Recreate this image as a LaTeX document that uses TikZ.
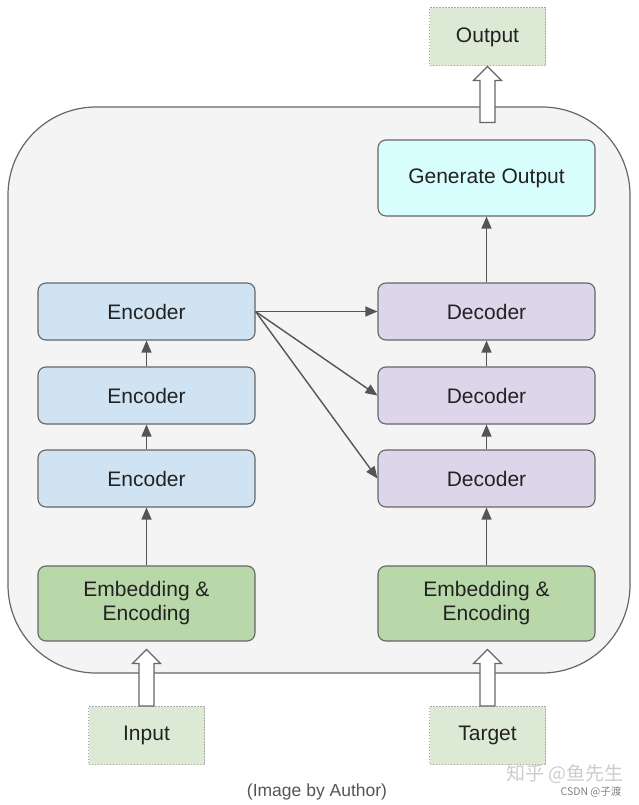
\documentclass[tikz,border=0pt]{standalone}
\usepackage{fontspec}
\setmainfont{Liberation Sans}
\newfontfamily\cjk{Noto Sans CJK SC}
\usetikzlibrary{arrows.meta,calc}

\definecolor{boxline}{HTML}{666666}
\definecolor{linkcol}{HTML}{555555}
\definecolor{txt}{HTML}{222222}
\definecolor{framefill}{HTML}{F4F4F4}
\definecolor{encfill}{HTML}{CFE3F3}
\definecolor{decfill}{HTML}{DDD5EA}
\definecolor{embfill}{HTML}{B9D8A9}
\definecolor{genfill}{HTML}{D8FDFD}
\definecolor{iofill}{HTML}{DCEAD5}
\definecolor{ioline}{HTML}{A8A8A8}

% hollow block arrow from #1 (bottom) up to #2 (tip)
\newcommand\bigarrow[2]{%
  \draw[hollow] let \p1=(#1), \p2=(#2) in
    (\x1-7.5pt,\y1) -- (\x1-7.5pt,\y2-14pt) -- (\x1-14pt,\y2-14pt) -- (\x1,\y2)
    -- (\x1+14pt,\y2-14pt) -- (\x1+7.5pt,\y2-14pt) -- (\x1+7.5pt,\y1) -- cycle;}

\begin{document}
\begin{tikzpicture}[x=1pt, y=-1pt, thick,
    box/.style={draw=boxline, line width=1.1pt, rounded corners=8pt,
      minimum width=217pt, minimum height=57pt, text=txt, align=center,
      font=\fontsize{21}{24}\selectfont},
    enc/.style={box, fill=encfill},
    dec/.style={box, fill=decfill},
    emb/.style={box, fill=embfill, minimum height=75pt},
    gen/.style={box, fill=genfill, minimum height=76pt},
    io/.style={draw=ioline, line width=1pt, dash pattern=on 1.5pt off 1.5pt,
      fill=iofill, minimum width=116pt, minimum height=58pt, text=txt,
      font=\fontsize{21}{24}\selectfont},
    link/.style={draw=linkcol, line width=1.4pt, -{Triangle[length=12pt,width=10pt]}},
    hollow/.style={draw=boxline, fill=white, line width=1.2pt}]
  \useasboundingbox (0,0) rectangle (638,805);

  % frame
  \draw[draw=boxline, line width=1.2pt, fill=framefill, rounded corners=88pt] (8,107) rectangle (630,673);

  % encoder side
  \node[emb] (emb1) at (146.5,603.5) {Embedding \&\\Encoding};
  \node[enc] (enc1) at (146.5,478.5) {Encoder};
  \node[enc] (enc2) at (146.5,395.5) {Encoder};
  \node[enc] (enc3) at (146.5,311.5) {Encoder};

  % decoder side
  \node[emb] (emb2) at (486.5,603.5) {Embedding \&\\Encoding};
  \node[dec] (dec1) at (486.5,478.5) {Decoder};
  \node[dec] (dec2) at (486.5,395.5) {Decoder};
  \node[dec] (dec3) at (486.5,311.5) {Decoder};
  \node[gen] (gen) at (486.5,178) {Generate Output};

  % inputs and output
  \node[io] (inp) at (146.5,735.5) {Input};
  \node[io] (tgt) at (487.5,735.5) {Target};
  \node[io] (out) at (487.5,37) {Output};

  % connectors
  \draw[link] (emb1) -- (enc1);
  \draw[link] (enc1) -- (enc2);
  \draw[link] (enc2) -- (enc3);
  \draw[link] (emb2) -- (dec1);
  \draw[link] (dec1) -- (dec2);
  \draw[link] (dec2) -- (dec3);
  \draw[link] (dec3) -- (gen);
  \draw[link] (enc3.east) -- (dec3.west);
  \draw[link] (enc3.east) -- (dec2.west);
  \draw[link] (enc3.east) -- (dec1.west);

  % hollow arrows
  \coordinate (tip1) at ([yshift=-8pt]emb1.south);
  \coordinate (tip2) at ([yshift=-8pt]emb2.south);
  \coordinate (base3) at ([yshift=17pt]gen.north -| out.south);
  \bigarrow{inp.north}{tip1}
  \bigarrow{tgt.north}{tip2 -| tgt.north}
  \bigarrow{base3}{out.south}

  % caption and marks
  \node[text=linkcol, font=\fontsize{17.5}{20}\selectfont] (cap) at (317,792) {(Image by Author)};
  \node[text=black!20, font=\cjk\fontsize{19}{21}\selectfont] (zh) at (565,774) {知乎 @鱼先生};
  \node[text=black!50, font=\cjk\fontsize{10.5}{12}\selectfont] (csdn) at (591,792) {CSDN @子渡};
\end{tikzpicture}
\end{document}
